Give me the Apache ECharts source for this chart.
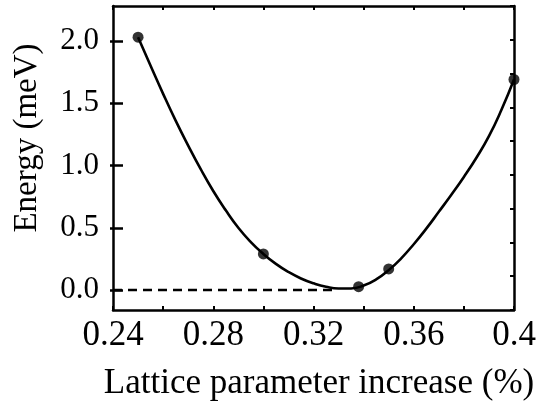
<!DOCTYPE html>
<html>
<head>
<meta charset="utf-8">
<script src="https://cdn.jsdelivr.net/npm/echarts@6/dist/echarts.min.js"></script>
<style>
html,body{margin:0;padding:0;background:#fff;}
#c{width:555px;height:410px;}
</style>
</head>
<body>
<div id="c"></div>
<script>
// Data
const xTickLabels = [0.24, 0.28, 0.32, 0.36, 0.4];
const xMinorTicks = [0.24, 0.26, 0.28, 0.30, 0.32, 0.34, 0.36, 0.38, 0.40];
const yTickLabels = [0, 0.5, 1.0, 1.5, 2.0];
const pointX = [0.250, 0.300, 0.338, 0.350, 0.400];
const pointY = [2.03, 0.29, 0.027, 0.17, 1.69];
const fitX = [0.250, 0.255, 0.260, 0.265, 0.270, 0.275, 0.280, 0.285, 0.290, 0.295, 0.300,
              0.305, 0.310, 0.315, 0.320, 0.325, 0.330, 0.335, 0.340, 0.345, 0.350,
              0.355, 0.360, 0.365, 0.370, 0.375, 0.380, 0.385, 0.390, 0.395, 0.400];
const fitY = [2.03, 1.80, 1.575, 1.36, 1.16, 0.97, 0.795, 0.64, 0.50, 0.385, 0.29,
              0.21, 0.145, 0.093, 0.054, 0.026, 0.012, 0.013, 0.036, 0.085, 0.16,
              0.255, 0.368, 0.493, 0.628, 0.765, 0.908, 1.062, 1.235, 1.447, 1.69];
const zeroLineX = [0.24, 0.329];
const zeroLineY = [0, 0];

const FONT = 'Liberation Serif';
const zip = (a, b) => a.map((v, i) => [v, b[i]]);

const chart = echarts.init(document.getElementById('c'), null, {renderer: 'canvas'});
chart.setOption({
  backgroundColor: '#fff',
  animation: false,
  grid: {left: 113, right: 41, top: 6, bottom: 100, containLabel: false},
  xAxis: [
    {
      type: 'value', position: 'bottom', min: 0.24, max: 0.40,
      name: 'Lattice parameter increase (%)', nameLocation: 'middle', nameGap: 56,
      nameTextStyle: {fontFamily: FONT, fontSize: 35, color: '#000', padding: [0, 0, 0, 11]},
      axisLine: {onZero: false, lineStyle: {color: '#000', width: 2.5}},
      axisTick: {inside: true, length: 4, lineStyle: {color: '#000', width: 2}, customValues: xMinorTicks},
      axisLabel: {fontFamily: FONT, fontSize: 35, color: '#000', margin: 8, customValues: xTickLabels,
        formatter: v => String(+(+v).toFixed(2))},
      splitLine: {show: false}
    },
    {
      type: 'value', position: 'top', min: 0.24, max: 0.40,
      axisLine: {onZero: false, lineStyle: {color: '#000', width: 2.5}},
      axisTick: {inside: true, length: 4, lineStyle: {color: '#000', width: 2}, customValues: xMinorTicks},
      axisLabel: {show: false},
      splitLine: {show: false}
    }
  ],
  yAxis: [
    {
      type: 'value', position: 'left', min: -0.16, max: 2.28,
      name: 'Energy (meV)', nameLocation: 'middle', nameGap: 69,
      nameTextStyle: {fontFamily: FONT, fontSize: 33, color: '#000', padding: [0, 0, 0, 40]},
      axisLine: {onZero: false, lineStyle: {color: '#000', width: 2.5}},
      axisTick: {inside: true, length: 10, lineStyle: {color: '#000', width: 2.5}, customValues: yTickLabels},
      axisLabel: {fontFamily: FONT, fontSize: 31, color: '#000', margin: 14, customValues: yTickLabels,
        formatter: v => (+v).toFixed(1)},
      splitLine: {show: false}
    },
    {
      type: 'value', position: 'right', min: 0, max: 9, interval: 1,
      axisLine: {onZero: false, lineStyle: {color: '#000', width: 2.5}},
      axisTick: {inside: true, length: 4, lineStyle: {color: '#000', width: 2}},
      axisLabel: {show: false},
      splitLine: {show: false}
    },
    {
      type: 'value', position: 'left', min: -0.16, max: 2.28, offset: 0,
      axisLine: {show: false, onZero: false},
      axisTick: {inside: false, length: 3, lineStyle: {color: '#000', width: 2.5}, customValues: yTickLabels},
      axisLabel: {show: false},
      splitLine: {show: false}
    }
  ],
  series: [
    {
      type: 'line', data: zip(zeroLineX, zeroLineY), showSymbol: false, z: 1,
      lineStyle: {color: '#000', width: 2.5, type: [9, 6]}
    },
    {
      type: 'line', data: zip(fitX, fitY), showSymbol: false, smooth: 0.5, z: 2,
      lineStyle: {color: '#000', width: 2.6}
    },
    {
      type: 'scatter', data: zip(pointX, pointY), symbolSize: 11, z: 3,
      itemStyle: {color: '#000'}
    }
  ]
});
</script>
</body>
</html>
